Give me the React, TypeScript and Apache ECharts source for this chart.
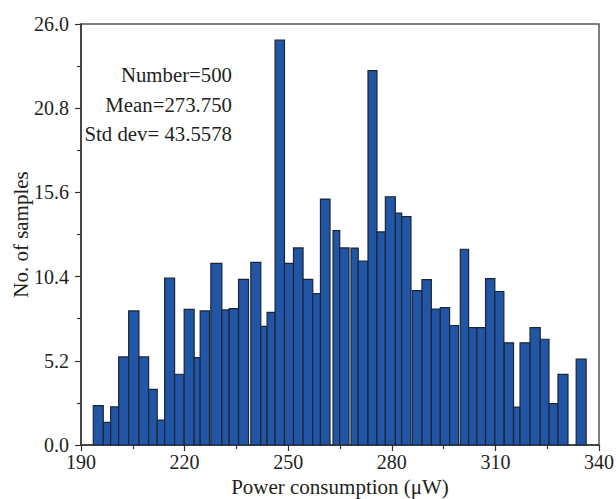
import React, { useEffect, useRef } from "react";
import * as echarts from "echarts";

// Histogram bins (µW)
const binStarts = [
  193.56, 196.45, 198.59, 200.91, 203.8, 206.78, 209.58, 212.07, 214.21, 217.1,
  219.88, 222.77, 224.51, 227.6, 230.79, 232.9, 235.62, 239.18, 242.07, 243.89,
  246.2, 248.92, 251.53, 254.3, 257.11, 259.34, 262.98, 264.92, 268.19, 270.27,
  273.11, 275.71, 278.14, 281.03, 282.86, 285.95, 288.73, 291.45, 294.05, 296.74,
  299.83, 302.24, 304.64, 307.15, 309.84, 312.59, 315.25, 317.13, 320.03, 322.98,
  325.52, 328.12, 333.39,
];
const binEnds = [
  196.45, 198.59, 200.91, 203.8, 206.78, 209.58, 212.07, 214.21, 217.1, 219.88,
  222.77, 224.51, 227.23, 230.79, 232.9, 235.62, 238.51, 242.07, 243.89, 246.2,
  248.92, 251.53, 254.3, 257.11, 259.34, 262.11, 264.92, 267.61, 270.27, 273.11,
  275.71, 278.14, 281.03, 282.86, 285.55, 288.73, 291.45, 294.05, 296.74, 299.34,
  302.24, 304.64, 307.15, 309.84, 312.45, 315.25, 317.13, 320.03, 322.98, 325.52,
  328.12, 331.02, 336.28,
];
const counts = [
  2.43, 1.4, 2.35, 5.44, 8.28, 5.44, 3.44, 1.54, 10.3, 4.37,
  8.38, 5.39, 8.28, 11.22, 8.34, 8.42, 10.23, 11.28, 7.33, 8.19,
  25.0, 11.22, 12.17, 10.23, 9.35, 15.19, 13.24, 12.17, 12.16, 11.35,
  23.12, 13.16, 15.33, 14.32, 14.11, 9.54, 10.21, 8.4, 8.48, 7.38,
  12.09, 7.25, 7.25, 10.28, 9.48, 6.31, 2.34, 6.31, 7.25, 6.53,
  2.55, 4.36, 5.3,
];
const statsLines = ["Number=500", "Mean=273.750", "Std dev= 43.5578"];

const SERIF = "'Liberation Serif', 'DejaVu Serif', serif";
const TEXT = "#231f20";

export default function App() {
  const ref = useRef<HTMLDivElement>(null);
  useEffect(() => {
    if (!ref.current) return;
    const chart = echarts.init(ref.current, null, { renderer: "svg" });
    const data = binStarts.map((s, i) => [s, binEnds[i], counts[i]]);
    chart.setOption({
      animation: false,
      backgroundColor: "#ffffff",
      grid: {
        left: 81,
        right: 17,
        top: 24,
        bottom: 54,
        containLabel: false,
        outerBoundsMode: "none",
        show: true,
        borderColor: "#555",
        borderWidth: 1.5,
      },
      xAxis: {
        type: "value",
        min: 190,
        max: 340,
        interval: 30,
        name: "Power consumption (μW)",
        nameLocation: "middle",
        nameGap: 31,
        nameMoveOverlap: false,
        nameTextStyle: { fontFamily: SERIF, fontSize: 21, color: TEXT },
        axisLine: { show: true, lineStyle: { color: "#333", width: 1.5 } },
        axisTick: { show: true, length: 6, lineStyle: { color: "#333", width: 1.2 } },
        minorTick: { show: true, splitNumber: 2, length: 4, lineStyle: { color: "#333", width: 1.2 } },
        axisLabel: { fontFamily: SERIF, fontSize: 20, color: TEXT, margin: 7 },
        splitLine: { show: false },
      },
      yAxis: {
        type: "value",
        min: 0,
        max: 26,
        interval: 5.2,
        name: "No. of samples",
        nameLocation: "middle",
        nameGap: 50,
        nameMoveOverlap: false,
        nameRotate: 90,
        nameTextStyle: { fontFamily: SERIF, fontSize: 21, color: TEXT },
        axisLine: { show: true, lineStyle: { color: "#333", width: 1.5 } },
        axisTick: { show: true, length: 6, lineStyle: { color: "#333", width: 1.2 } },
        minorTick: { show: true, splitNumber: 2, length: 4, lineStyle: { color: "#333", width: 1.2 } },
        axisLabel: {
          fontFamily: SERIF,
          fontSize: 20,
          color: TEXT,
          margin: 12,
          formatter: (v: number) => v.toFixed(1),
        },
        splitLine: { show: false },
      },
      series: [
        {
          type: "custom",
          data,
          encode: { x: [0, 1], y: 2 },
          renderItem: (params: any, api: any) => {
            const p0 = api.coord([api.value(0), 0]);
            const p1 = api.coord([api.value(1), api.value(2)]);
            return {
              type: "rect",
              shape: {
                x: p0[0],
                y: p1[1],
                width: p1[0] - p0[0],
                height: p0[1] - p1[1],
              },
              style: {
                fill: "#2156a6",
                stroke: "#1c2535",
                lineWidth: 1.2,
              },
            };
          },
        },
      ],
      graphic: statsLines.map((t, i) => ({
        type: "text",
        right: 616 - 232,
        top: 64 + i * 29.5,
        style: {
          text: t,
          fontFamily: SERIF,
          fontSize: 20.8,
          fill: TEXT,
          textAlign: "right",
        },
      })),
    });
    return () => chart.dispose();
  }, []);
  return <div ref={ref} style={{ width: 616, height: 499, position: "absolute", left: 0, top: 0 }} />;
}
